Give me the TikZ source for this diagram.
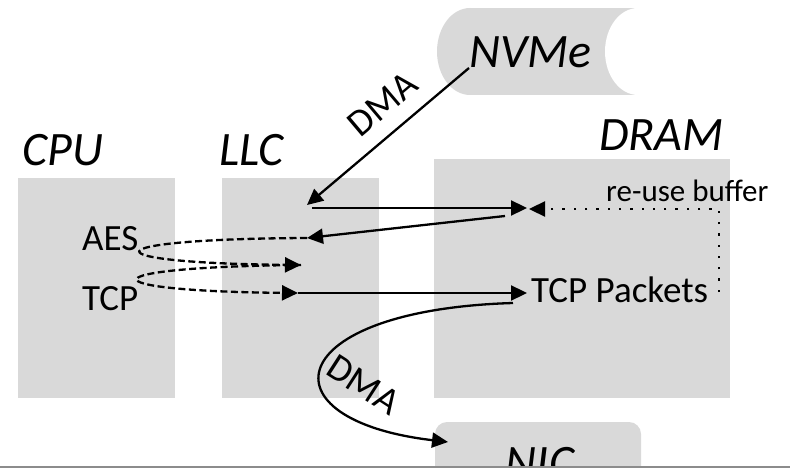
\documentclass[tikz,border=0pt]{standalone}
\usepackage{fontspec}
\setmainfont{Carlito}
\usetikzlibrary{positioning,arrows.meta}
\definecolor{boxgray}{HTML}{D9D9D9}

\begin{document}
\begin{tikzpicture}[x=1pt,y=-1pt,>={Triangle[length=16pt,width=15pt]},
  unit/.style={fill=boxgray,inner sep=0pt},
  title/.style={font=\fontsize{48}{52}\selectfont\itshape,inner sep=0pt,anchor=base west},
  lbl/.style={font=\fontsize{37}{42}\selectfont,inner sep=0pt,anchor=base west},
  dma/.style={font=\fontsize{38}{42}\selectfont,inner sep=0pt,sloped},
  flow/.style={->,line width=2.3pt},
  back/.style={->,line width=2.3pt,dash pattern=on 7pt off 3.5pt},
  reuse/.style={->,line width=2.3pt,dash pattern=on 2.3pt off 9pt}]
\useasboundingbox (0,0) rectangle (790,468);
\clip (0,0) rectangle (790,468);
% NVMe drive
\fill[boxgray] (470,8) rectangle (638,95);
\fill[boxgray] (470,51.5) ellipse [x radius=33,y radius=43.5];
\fill[white] (638,51.5) ellipse [x radius=33,y radius=43.5];
\node[title] (nvme) at (469,68) {NVMe};
% boxes
\node[unit,minimum width=157pt,minimum height=220pt] (cpu) at (96.5,288) {};
\node[unit,minimum width=157pt,minimum height=220pt] (llc) at (300.5,288) {};
\node[unit,minimum width=296pt,minimum height=239pt] (dram) at (582,278.5) {};
\node[unit,rounded corners=12pt,minimum width=206pt,minimum height=100pt] (nic) at (538,472) {};
\node[title] (cputitle) at (22,165) {CPU};
\node[title] (llctitle) at (219,166) {LLC};
\node[title] (dramtitle) at (599,150) {DRAM};
\node[title,anchor=base] (nictitle) at (540,478) {NIC};
\node[lbl] (aes) at (82,250) {AES};
\node[lbl] (tcp) at (82,310) {TCP};
\node[lbl] (pkts) at (531,302) {TCP Packets};
\node[lbl,font=\fontsize{31}{36}\selectfont] (buf) at (606,201) {re-use buffer};
% arrow ends
\coordinate (llcin) at (307,205);
\coordinate (llcout) at (312,208);
\coordinate (dramin) at (527,208);
\coordinate (dramout) at (505,216);
\coordinate (llcback) at (307,238);
\coordinate (llcaes) at (301,265);
\coordinate (llctcp) at (298,293);
\coordinate (pktsin) at (527,293);
\coordinate (pktsout) at (513,303);
\coordinate (nicin) at (448,442);
\coordinate (bufin) at (529,209);
\coordinate (bufout) at (719,292);
% flows
\draw[flow] (nvme.base west) -- node[dma,pos=0.42,above=15pt]{DMA} (llcin);
\draw[flow] (llcout) -- (dramin);
\draw[flow] (dramout) -- (llcback);
\draw[reuse] (bufout) |- (bufin);
\draw[back] (llcback) .. controls (87,239) and (87,263) .. (llcaes);
\draw[back] (llcaes) .. controls (85,267) and (85,291) .. (llctcp);
\draw[flow] (llctcp) -- (pktsin);
\draw[flow] (pktsout) .. controls (280,310) and (260,420) .. node[dma,pos=0.75,above=19pt]{DMA} (nicin);
\draw[black!45,line width=2pt] (0,467) -- (790,467);
\end{tikzpicture}
\end{document}
